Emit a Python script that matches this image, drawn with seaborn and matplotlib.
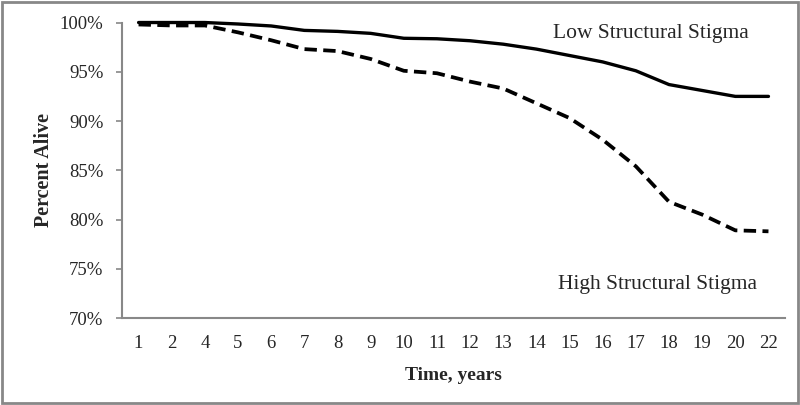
import seaborn as sns
import matplotlib.pyplot as plt
import numpy as np
import pandas as pd
from matplotlib.patches import Rectangle
from matplotlib.ticker import PercentFormatter

# years shown on the x axis (21 is not in the source chart)
years = ['1', '2', '4', '5', '6', '7', '8', '9', '10', '11', '12', '13',
         '14', '15', '16', '17', '18', '19', '20', '22']
low_stigma = [100.0, 100.0, 100.0, 99.85, 99.65, 99.2, 99.1, 98.9, 98.4, 98.35,
              98.15, 97.8, 97.3, 96.65, 96.0, 95.1, 93.7, 93.1, 92.5, 92.5]
high_stigma = [99.8, 99.7, 99.7, 99.0, 98.2, 97.3, 97.1, 96.3, 95.1, 94.85,
               94.0, 93.3, 91.8, 90.3, 88.1, 85.4, 81.8, 80.5, 78.9, 78.8]

df = pd.DataFrame({'pos': np.arange(len(years)), 'year': years,
                   'low': low_stigma, 'high': high_stigma})

sns.set_style('white')
plt.rcParams['font.family'] = ['Liberation Serif', 'DejaVu Serif']

fig = plt.figure(figsize=(8, 4.05), dpi=100)
ax = fig.add_axes([0.1525, 0.2148, 0.8288, 0.7296])

sns.lineplot(data=df, x='pos', y='low', color='black', linewidth=2.4, ax=ax)
sns.lineplot(data=df, x='pos', y='high', color='black', linewidth=2.7,
             linestyle=(0, (3.3, 1.7)), ax=ax)
for line in ax.lines:
    line.set_clip_on(False)

ax.set_xlim(-0.5, len(years) - 0.5)
ax.set_ylim(70, 100)
ax.set_yticks(np.arange(70, 101, 5))
ax.yaxis.set_major_formatter(PercentFormatter(decimals=0))
ax.set_xticks(df['pos'])
ax.set_xticklabels(years)

ax.tick_params(axis='y', which='major', length=4.5, width=1.2, color='#888888',
               direction='out', left=True, labelsize=13.5, pad=9)
ax.tick_params(axis='x', length=0, labelsize=13.5, pad=12)

sns.despine(ax=ax)
for s in ['left', 'bottom']:
    ax.spines[s].set_color('#888888')
    ax.spines[s].set_linewidth(1.5)

ax.set_xlabel('Time, years', fontsize=14, fontweight='bold', labelpad=11)
ax.set_ylabel('Percent Alive', fontsize=14.5, fontweight='bold', labelpad=4)

ax.text(0.798, 0.964, 'Low Structural Stigma', transform=ax.transAxes,
        ha='center', va='center', fontsize=15.5)
ax.text(0.807, 0.112, 'High Structural Stigma', transform=ax.transAxes,
        ha='center', va='center', fontsize=15.5)

fig.patches.append(Rectangle((0.003, 0.004), 0.994, 0.992, transform=fig.transFigure,
                             fill=False, edgecolor='#888888', linewidth=2))

fig.savefig('out.png', dpi=100)
